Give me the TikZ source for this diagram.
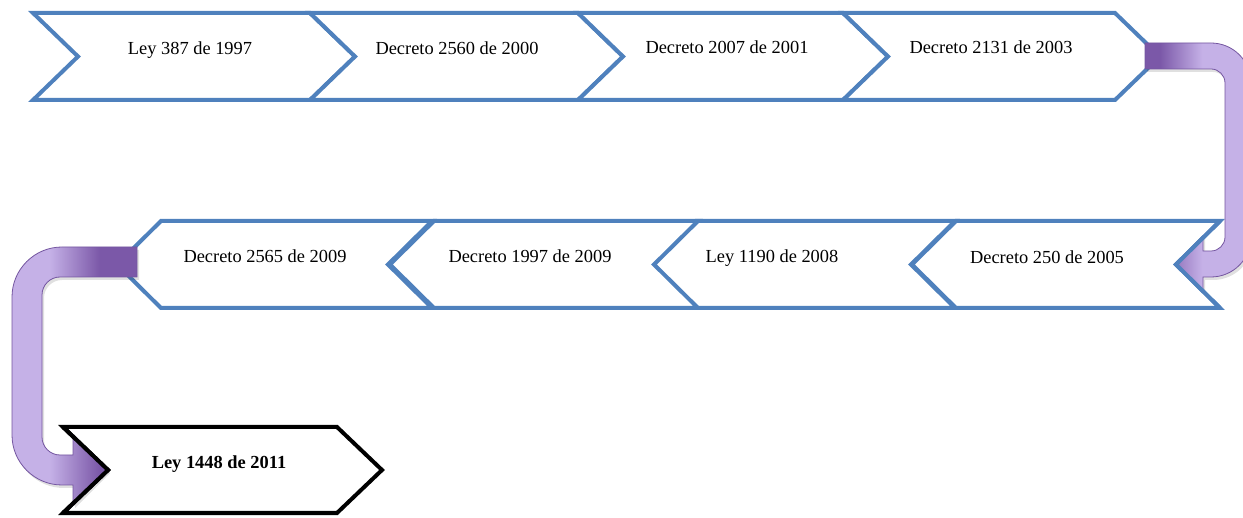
\documentclass[tikz,border=0pt]{standalone}
\usepackage{fontspec}
\setmainfont{Liberation Serif}
\definecolor{cblue}{HTML}{4F81BD}
\definecolor{pdark}{HTML}{7B58A8}
\definecolor{pline}{HTML}{7456A0}
\definecolor{plight}{HTML}{C5B1E7}
\pgfdeclarehorizontalshading{purpR}{100bp}{color(0bp)=(pdark); color(32bp)=(pdark); color(52bp)=(plight); color(100bp)=(plight)}
\pgfdeclarehorizontalshading{purpL}{100bp}{color(0bp)=(plight); color(40bp)=(plight); color(60bp)=(pdark); color(100bp)=(pdark)}
\newcommand\chevRight[5][cblue]{%
  \path[chev,draw=#1] (#2,#4) -- (#3,#4) -- ({#3+45},{(#4+#5)/2}) -- (#3,#5) -- (#2,#5) -- ({#2+45},{(#4+#5)/2}) -- cycle;}
\newcommand\chevLeft[4]{%
  \path[chev,draw=cblue] (#1,{(#3+#4)/2}) -- ({#1+44},#3) -- (#2,#3) -- ({#2-44},{(#3+#4)/2}) -- (#2,#4) -- ({#1+44},#4) -- cycle;}
\begin{document}
\begin{tikzpicture}[x=1pt,y=-1pt,
  chev/.style={fill=white, line width=4pt, line join=miter},
  lbl/.style={font=\fontsize{18.4}{22}\selectfont, anchor=base, inner sep=0pt},
  uarrow/.style={draw=pline, line width=0.8pt},
  ushadow/.style={fill=black, opacity=0.12}]
\useasboundingbox (0,0) rectangle (1243,518);
% top row
\chevRight{33}{310}{13}{100}
\chevRight{310}{578}{13}{100}
\chevRight{578}{843}{13}{100}
\chevRight{843}{1115}{13}{100}
% second row
\chevLeft{912}{1220}{221}{308}
\chevLeft{652}{955}{221}{308}
\chevLeft{390}{698}{221}{308}
\chevLeft{117}{432}{221}{308}
% final
\chevRight[black]{63}{337}{427}{513}
% labels
\node[lbl] (l1) at (190,55) {Ley 387 de 1997};
\node[lbl] (l2) at (457,55) {Decreto 2560 de 2000};
\node[lbl] (l3) at (727,54) {Decreto 2007 de 2001};
\node[lbl] (l4) at (991,54) {Decreto 2131 de 2003};
\node[lbl] (l5) at (1047,264) {Decreto 250 de 2005};
\node[lbl] (l6) at (772,263) {Ley 1190 de 2008};
\node[lbl] (l7) at (530,263) {Decreto 1997 de 2009};
\node[lbl] (l8) at (265,263) {Decreto 2565 de 2009};
\node[lbl,font=\fontsize{18.4}{22}\selectfont\bfseries] (l9) at (219,469) {Ley 1448 de 2011};
% right U-turn arrow
\fill[ushadow,xshift=2pt,yshift=-3pt] (1145,43) -- (1211,43) .. controls (1233.1,43) and (1251,60.9) .. (1251,83) -- (1251,237) .. controls (1251,259.1) and (1233.1,277) .. (1211,277) -- (1203,277) -- (1203,292) -- (1175,264) -- (1203,236) -- (1203,251) -- (1211,251) .. controls (1218.7,251) and (1225,244.7) .. (1225,237) -- (1225,83) .. controls (1225,75.3) and (1218.7,69) .. (1211,69) -- (1145,69) -- cycle;
\shadedraw[shading=purpR,uarrow] (1145,43) -- (1211,43) .. controls (1233.1,43) and (1251,60.9) .. (1251,83) -- (1251,237) .. controls (1251,259.1) and (1233.1,277) .. (1211,277) -- (1203,277) -- (1203,292) -- (1175,264) -- (1203,236) -- (1203,251) -- (1211,251) .. controls (1218.7,251) and (1225,244.7) .. (1225,237) -- (1225,83) .. controls (1225,75.3) and (1218.7,69) .. (1211,69) -- (1145,69) -- cycle;
% left U-turn arrow
\fill[ushadow,xshift=2pt,yshift=-3pt] (137,247) -- (62,247) .. controls (34.4,247) and (12,269.4) .. (12,297) -- (12,435) .. controls (12,462.6) and (34.4,485) .. (62,485) -- (73,485) -- (73,505) -- (108,470) -- (73,435) -- (73,455) -- (60,455) .. controls (50.1,455) and (42,446.9) .. (42,437) -- (42,295) .. controls (42,285.1) and (50.1,277) .. (60,277) -- (137,277) -- cycle;
\shadedraw[shading=purpL,uarrow] (137,247) -- (62,247) .. controls (34.4,247) and (12,269.4) .. (12,297) -- (12,435) .. controls (12,462.6) and (34.4,485) .. (62,485) -- (73,485) -- (73,505) -- (108,470) -- (73,435) -- (73,455) -- (60,455) .. controls (50.1,455) and (42,446.9) .. (42,437) -- (42,295) .. controls (42,285.1) and (50.1,277) .. (60,277) -- (137,277) -- cycle;
% notch lines over the arrow heads
\draw[cblue,line width=4pt,line join=miter] (1220,221) -- (1176,264.5) -- (1220,308);
\draw[black,line width=4pt,line join=miter] (63,427) -- (108,470) -- (63,513);
\end{tikzpicture}
\end{document}
